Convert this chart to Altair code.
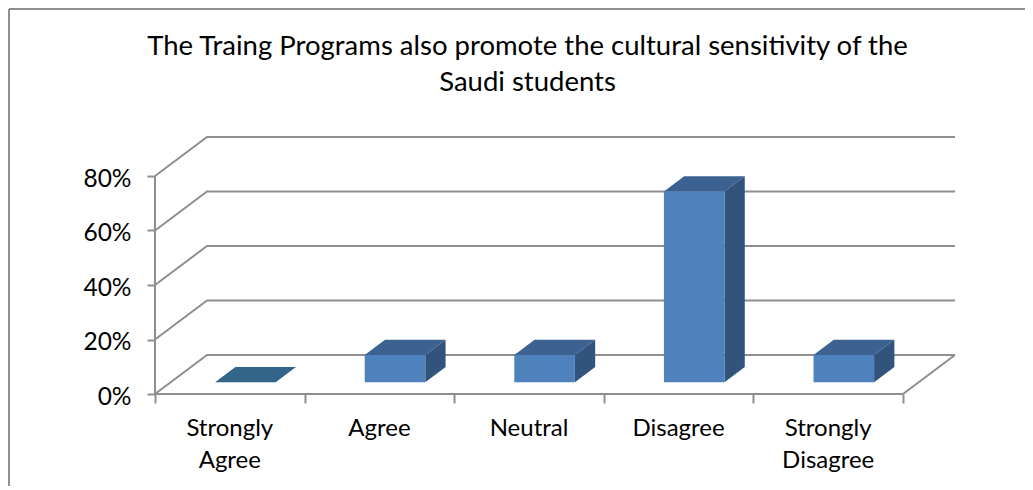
import altair as alt
import pandas as pd

title_lines = ["The Traing Programs also promote the cultural sensitivity of the", "Saudi students"]
categories = ["Strongly\nAgree", "Agree", "Neutral", "Disagree", "Strongly\nDisagree"]
values = [0, 10, 10, 70, 10]
y_ticks = [0, 20, 40, 60, 80]

FONT = "Lato"
GRID = "#8E8E8E"
FRONT = "#4F81BD"
TOP = "#3C6292"
SIDE = "#32537C"
FLAT = "#33658A"
TXT = "#000000"

W, H = 801, 257
UNIT = 149.6          # px per category
PCT = 2.725           # px per percent
DX = 52 / UNIT        # depth shift in category units
DY = 39 / PCT         # depth shift in percent
D0, D1 = 0.30, 0.69   # bar depth span
BW = 0.405            # bar width
N = len(categories)
PAD_L, PAD_T, PAD_R, PAD_B = 147, 129, 69, 92

xs = alt.Scale(domain=[0, W / UNIT], nice=False, zero=False)
ys = alt.Scale(domain=[0, H / PCT], nice=False, zero=False)
x_axis_def = alt.Axis(
    values=list(range(N + 1)), domain=False, grid=False, tickColor=GRID, tickWidth=2,
    tickSize=9, labels=False, title=None)
y_axis_def = alt.Axis(
    values=y_ticks, domain=False, grid=False, tickColor=GRID, tickWidth=2, tickSize=8,
    labelExpr="datum.value + '%'", labelFont=FONT, labelFontSize=24.5, labelColor=TXT,
    labelPadding=16, labelOffset=3, title=None)
X = lambda f="x": alt.X(f"{f}:Q", scale=xs, axis=x_axis_def)
Y = lambda f="y": alt.Y(f"{f}:Q", scale=ys, axis=y_axis_def)

# gridlines: back wall + left wall diagonals + floor edges
grid = []
for t in y_ticks:
    g = f"g{t}"
    grid += [
        dict(g=g, o=0, x=0, y=t),
        dict(g=g, o=1, x=DX, y=t + DY),
        dict(g=g, o=2, x=N + DX, y=t + DY),
    ]
grid += [dict(g="r", o=0, x=N, y=0), dict(g="r", o=1, x=N + DX, y=DY)]
grid += [dict(g="f", o=0, x=0, y=0), dict(g="f", o=1, x=N, y=0)]
grid += [dict(g="a", o=0, x=0, y=0), dict(g="a", o=1, x=0, y=y_ticks[-1])]
grid_layer = alt.Chart(pd.DataFrame(grid)).mark_line(color=GRID, strokeWidth=2).encode(
    x=X(), y=Y(), detail="g:N", order="o:Q"
)

# bar faces
front, side, top = [], [], []
for i, v in enumerate(values):
    x0 = i + 0.5 - BW / 2
    x1 = x0 + BW
    if v > 0:
        front.append(dict(b=i, x=x0 + D0 * DX, x2=x1 + D0 * DX, y=D0 * DY, y2=v + D0 * DY))
        for d in (D0, D1):
            side.append(dict(b=i, x=x1 + d * DX, y=d * DY, y2=v + d * DY))
    for d in (D0, D1):
        top.append(dict(b=i, y=v + d * DY, x=x0 + d * DX, x2=x1 + d * DX,
                        c=TOP if v > 0 else FLAT))

front_layer = alt.Chart(pd.DataFrame(front)).mark_rect(color=FRONT).encode(
    x=X(), x2="x2:Q", y=Y(), y2="y2:Q"
)
side_layer = alt.Chart(pd.DataFrame(side)).mark_area(color=SIDE, orient="vertical").encode(
    x=X(), y=Y(), y2="y2:Q", detail="b:N"
)
top_layer = alt.Chart(pd.DataFrame(top)).mark_area(orient="horizontal").encode(
    y=Y(), x=X(), x2="x2:Q", detail="b:N",
    color=alt.Color("c:N", scale=None, legend=None),
)

# category labels
labels = alt.Chart(pd.DataFrame({"x": [i + 0.5 for i in range(N)], "t": categories})).mark_text(
    font=FONT, fontSize=24, color=TXT, lineBreak="\n", lineHeight=32, baseline="alphabetic", align="center"
).encode(x=X(), y=alt.value(H + 42), text="t:N")

# outer frame of the picture (only the top and left edges are visible)
frame_top = alt.Chart(pd.DataFrame({"a": [0]})).mark_rule(color=GRID, strokeWidth=2).encode(
    x=alt.value(-PAD_L + 1), x2=alt.value(W + PAD_R), y=alt.value(-PAD_T + 1)
)
frame_left = alt.Chart(pd.DataFrame({"a": [0]})).mark_rule(color=GRID, strokeWidth=2).encode(
    x=alt.value(-PAD_L + 1), y=alt.value(-PAD_T + 1), y2=alt.value(H + PAD_B)
)

chart = alt.layer(
    frame_top, frame_left, grid_layer, top_layer, side_layer, front_layer, labels
).properties(
    width=W, height=H,
    padding={"left": PAD_L, "top": PAD_T, "right": PAD_R, "bottom": PAD_B},
    autosize=alt.AutoSizeParams(type="none"),
    title=alt.TitleParams(
        text=title_lines, font=FONT, fontSize=27.5, fontWeight="normal", color=TXT,
        anchor="middle", lineHeight=36, offset=-88, dx=-28,
    ),
).configure_view(stroke=None)

chart.save("out.html", embed_options={"renderer": "svg", "actions": False})
